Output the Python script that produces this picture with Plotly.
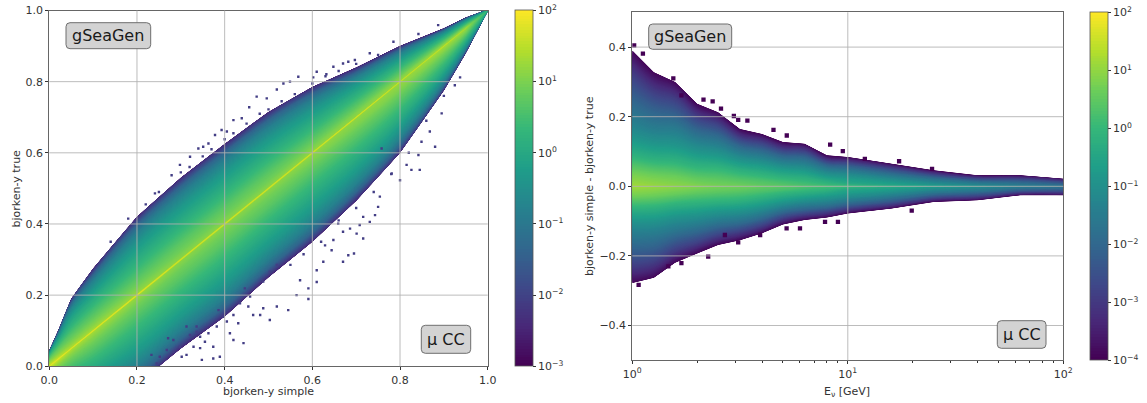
import plotly.graph_objects as go

W, H = 1147, 403

# ---- left panel: values ----
left_x = [0, .02, .05, .1, .2, .3, .4, .5, .6, .7, .8, .9, .95, 1]
left_edge_up = [.045, .08, .14, .175, .22, .23, .225, .215, .185, .14, .10, .05, .03, .003]
left_edge_dn = [.06, .10, .15, .20, .25, .25, .26, .25, .25, .235, .20, .125, .07, .003]
left_frac = [0, .015, .1, .2, .35, .5, .65, .8, .9, 1]
left_logz = [
    [1.9, 1.7, 1.5, 1.3, 1.0, .7, .35, -.1, -.7, -2.2],
    [1.9, 1.6, 1.3, 1.05, .75, .4, 0, -.5, -1.1, -2.3],
    [1.8, 1.4, 1.1, .85, .5, .15, -.2, -.7, -1.3, -2.4],
    [1.8, 1.3, 1.05, .8, .45, .1, -.3, -.8, -1.4, -2.4],
    [1.8, 1.2, .95, .7, .35, 0, -.35, -.85, -1.4, -2.4],
    [1.7, 1.1, .9, .7, .35, 0, -.35, -.85, -1.4, -2.4],
    [1.7, 1.1, .9, .7, .35, 0, -.35, -.85, -1.4, -2.4],
    [1.7, 1.1, .9, .7, .35, 0, -.35, -.85, -1.4, -2.4],
    [1.7, 1.15, .95, .7, .35, 0, -.35, -.85, -1.4, -2.4],
    [1.7, 1.15, 1.0, .75, .4, .05, -.3, -.8, -1.4, -2.4],
    [1.6, 1.2, 1.05, .8, .45, .1, -.3, -.8, -1.4, -2.4],
    [1.6, 1.3, 1.1, .85, .5, .15, -.25, -.75, -1.35, -2.4],
    [1.4, 1.2, 1.05, .85, .5, .15, -.25, -.7, -1.3, -2.4],
    [.3, .3, .3, .2, .1, 0, -.2, -.5, -1.0, -2.0],
]
left_speck_x = [.233, .245, .271, .283, .313, .321, .336, .348, .374, .389, .412, .42, .431, .443, .405, .454, .465,
                .488, .503, .519, .481, .374, .344, .313, .545, .591, .564, .61, .591, .572, .61, .625, .67, .682,
                .695, .716, .701, .648, .644, .731, .743, .75, .716, .708, .686, .67, .659, .629, .88, .845, .826,
                .815, .842, .849, .868, .895, .80, .781, .758, .937, .925, .754, .785, .731, .67, .682, .697, .61,
                .632, .568, .602, .648, .842, .887, .549, .534, .519, .473, .496, .456, .439, .42, .393, .378, .363,
                .34, .298, .279, .241, .405, .351, .321,
                .336, .344, .363, .382, .397, .386, .42, .435, .458, .446, .488, .503, .519, .283, .298, .268, .252,
                .302, .329, .355,
                .3, .32, .35, .37, .4, .42, .45, .48, .5, .53, .56, .6, .63, .66, .7, .75, .25, .22, .18, .14,
                .55, .58, .62, .66, .7, .74, .78, .82, .86, .9]
left_speck_y = [.032, .008, .079, .041, .112, .088, .097, .018, .022, .027, .093, .074, .121, .065, .126, .168, .144,
                .163, .13, .168, .144, .055, .051, .032, .158, .189, .2, .237, .219, .242, .27, .294, .294, .312,
                .317, .359, .373, .355, .326, .406, .425, .448, .42, .397, .387, .378, .401, .34, .617, .552, .552,
                .566, .594, .631, .66, .711, .523, .542, .612, .812, .79, .477, .912, .88, .851, .856, .861, .828,
                .821, .814, .812, .842, .934, .959, .8, .795, .778, .758, .753, .728, .697, .692, .664, .65, .626,
                .612, .566, .537, .486, .66, .617, .589,
                .112, .083, .093, .112, .14, .158, .144, .177, .196, .219, .238, .266, .285, .074, .055, .046, .027,
                .027, .055, .069,
                .545, .56, .59, .61, .638, .655, .682, .71, .722, .745, .765, .795, .815, .83, .85, .875, .49, .455,
                .415, .35,
                .285, .315, .35, .41, .445, .49, .54, .6, .69, .76]

# ---- right panel: values ----
right_e = [1, 1.26, 1.58, 2, 2.5, 3.16, 4, 5, 6.3, 8, 10, 16, 25, 40, 63, 100]
right_edge_up = [.39, .328, .30, .237, .213, .165, .15, .127, .122, .089, .084, .065, .046, .032, .032, .022]
right_edge_dn = [.278, .263, .22, .193, .169, .155, .135, .11, .097, .09, .078, .064, .045, .04, .026, .026]
right_frac = [0, .1, .25, .4, .55, .7, .85, 1]
right_logz = [
    [1.15, .7, -.3, -1.1, -1.7, -2.3, -3.0, -3.9],
    [1.05, .65, -.25, -1.0, -1.65, -2.25, -3.0, -3.9],
    [.95, .6, -.2, -.9, -1.5, -2.2, -2.95, -3.9],
    [.85, .5, -.15, -.8, -1.4, -2.1, -2.9, -3.9],
    [.75, .45, -.1, -.75, -1.35, -2.05, -2.9, -3.9],
    [.7, .4, -.1, -.7, -1.3, -2.0, -2.9, -3.9],
    [.55, .3, -.2, -.75, -1.35, -2.05, -2.9, -3.9],
    [.45, .2, -.3, -.8, -1.4, -2.1, -2.95, -3.9],
    [.3, .05, -.4, -.9, -1.45, -2.1, -2.95, -3.9],
    [.2, -.1, -.55, -1.0, -1.5, -2.15, -3.0, -3.9],
    [.1, -.4, -.7, -1.1, -1.6, -2.2, -3.0, -3.9],
    [-.3, -.6, -.95, -1.35, -1.85, -2.4, -3.1, -3.9],
    [-.6, -.9, -1.25, -1.6, -2.05, -2.6, -3.2, -3.9],
    [-1.0, -1.2, -1.5, -1.85, -2.3, -2.75, -3.3, -3.9],
    [-1.4, -1.55, -1.8, -2.1, -2.45, -2.9, -3.4, -3.9],
    [-1.7, -1.8, -2.0, -2.3, -2.6, -3.0, -3.4, -3.9],
]
right_speck_e = [1.02, 1.12, 1.55, 1.69, 2.14, 2.36, 2.58, 2.96, 3.1, 3.42, 4.52, 5.21, 8.28, 9.48, 12, 17.3, 24.6,
                 1.07, 1.47, 1.69, 2.25, 2.69, 3.1, 3.92, 5.2, 6, 7.84, 9, 19.8]
right_speck_y = [.405, .381, .31, .261, .249, .244, .223, .202, .191, .189, .162, .146, .12, .101, .079, .072, .05,
                 -.283, -.23, -.221, -.202, -.14, -.161, -.14, -.121, -.121, -.102, -.102, -.07]

left_ticks = [0, .2, .4, .6, .8, 1]
right_yticks = [-.4, -.2, 0, .2, .4]
right_xticks = [1, 10, 100]
right_xlabels = ["10<sup>0</sup>", "10<sup>1</sup>", "10<sup>2</sup>"]
right_xminor = [2, 3, 4, 5, 6, 7, 8, 9, 20, 30, 40, 50, 60, 70, 80, 90]
left_cb_ticks = [-3, -2, -1, 0, 1, 2]
right_cb_ticks = [-4, -3, -2, -1, 0, 1, 2]

FONT = "DejaVu Sans"
TXT = "#333333"


def mirror_fracs(fr):
    return [-f for f in reversed(fr)] + list(fr[1:])


def mirror_row(row):
    return list(reversed(row)) + list(row[1:])


def grid(anchor, frac, up, dn, add_anchor):
    fs = mirror_fracs(frac)
    ys = [[(a if add_anchor else 0) + (f * (up[i] if f > 0 else dn[i])) for i, a in enumerate(anchor)] for f in fs]
    xs = [list(anchor) for _ in fs]
    return fs, xs, ys


def z_grid(table, frac):
    n = len(mirror_fracs(frac))
    mirrored = [mirror_row(r) for r in table]
    return [[mirrored[i][j] for i in range(len(table))] for j in range(n)]


def cb_text(vals):
    return ["10<sup>%s</sup>" % str(v).replace("-", "−") for v in vals]


hidden = dict(showgrid=False, showticklabels="none", startline=False, endline=False,
              minorgridcount=0, smoothing=0, showline=False, tickmode="array", tickvals=[], ticktext=[])

fig = go.Figure()

# Panels in pixels
LX0, LX1, LY0, LY1 = 49.3, 487.7, 10.5, 366.3
RX0, RX1, RY0, RY1 = 632.3, 1063.3, 12.3, 360.3

fs, xs, ys = grid(left_x, left_frac, left_edge_up, left_edge_dn, True)
fig.add_trace(go.Carpet(carpet="cl", a=left_x, b=list(range(len(fs))), x=xs, y=ys,
                        aaxis=hidden, baxis=hidden, xaxis="x", yaxis="y"))
fig.add_trace(go.Contourcarpet(
    carpet="cl", a=left_x, b=list(range(len(fs))), z=z_grid(left_logz, left_frac),
    colorscale="Viridis", zmin=-3, zmax=2, autocontour=False,
    contours=dict(start=-3, end=2, size=.04, coloring="fill", showlines=False),
    line=dict(width=0), xaxis="x", yaxis="y",
    colorbar=dict(x=515 / W, xanchor="left", xpad=0, ypad=0, y=1 - LY1 / H, yanchor="bottom",
                  len=(LY1 - LY0) / H, lenmode="fraction", thickness=18, thicknessmode="pixels",
                  tickmode="array", tickvals=left_cb_ticks, ticktext=cb_text(left_cb_ticks),
                  ticks="outside", ticklen=3, tickwidth=.8, tickcolor=TXT, outlinewidth=.8, outlinecolor="#555",
                  tickfont=dict(family=FONT, size=11, color=TXT)),
))
fig.add_trace(go.Scatter(x=left_speck_x, y=left_speck_y, mode="markers", xaxis="x", yaxis="y", hoverinfo="skip",
                         marker=dict(symbol="square", size=2.4, color="#433e85", line=dict(width=0))))

fs, xs, ys = grid(right_e, right_frac, right_edge_up, right_edge_dn, False)
fig.add_trace(go.Carpet(carpet="cr", a=right_e, b=list(range(len(fs))), x=xs, y=ys,
                        aaxis=hidden, baxis=hidden, xaxis="x2", yaxis="y2"))
fig.add_trace(go.Contourcarpet(
    carpet="cr", a=right_e, b=list(range(len(fs))), z=z_grid(right_logz, right_frac),
    colorscale="Viridis", zmin=-4, zmax=2, autocontour=False,
    contours=dict(start=-4, end=2, size=.05, coloring="fill", showlines=False),
    line=dict(width=0), xaxis="x2", yaxis="y2",
    colorbar=dict(x=1090 / W, xanchor="left", xpad=0, ypad=0, y=1 - RY1 / H, yanchor="bottom",
                  len=(RY1 - RY0) / H, lenmode="fraction", thickness=18, thicknessmode="pixels",
                  tickmode="array", tickvals=right_cb_ticks, ticktext=cb_text(right_cb_ticks),
                  ticks="outside", ticklen=3, tickwidth=.8, tickcolor=TXT, outlinewidth=.8, outlinecolor="#555",
                  tickfont=dict(family=FONT, size=11, color=TXT)),
))
fig.add_trace(go.Scatter(x=right_speck_e, y=right_speck_y, mode="markers", xaxis="x2", yaxis="y2", hoverinfo="skip",
                         marker=dict(symbol="square", size=4.3, color="#440154", line=dict(width=0))))


def axis(domain, **kw):
    d = dict(domain=domain, showline=True, mirror=True, linecolor="#666", linewidth=1, automargin=False,
             ticks="outside", ticklen=3, tickwidth=.8, tickcolor=TXT, showgrid=False, zeroline=False,
             tickfont=dict(family=FONT, size=11, color=TXT), layer="above traces")
    d.update(kw)
    return d


fig.update_layout(
    width=W, height=H, autosize=False, margin=dict(l=0, r=0, t=0, b=0),
    paper_bgcolor="white", plot_bgcolor="white", showlegend=False,
    xaxis=axis([LX0 / W, LX1 / W], range=[0, 1], tickmode="array", tickvals=left_ticks,
               ticktext=["%.1f" % t for t in left_ticks], anchor="y"),
    yaxis=axis([1 - LY1 / H, 1 - LY0 / H], range=[0, 1], tickmode="array", tickvals=left_ticks,
               ticktext=["%.1f" % t for t in left_ticks], anchor="x"),
    xaxis2=axis([RX0 / W, RX1 / W], type="log", range=[0, 2], tickmode="array", tickvals=right_xticks,
                ticktext=right_xlabels, anchor="y2",
                minor=dict(ticks="outside", ticklen=2, tickwidth=.6, tickcolor=TXT, tickvals=right_xminor)),
    yaxis2=axis([1 - RY1 / H, 1 - RY0 / H], range=[-.5, .5], tickmode="array", tickvals=right_yticks,
                ticktext=[("%.1f" % t).replace("-", "−") for t in right_yticks], anchor="x2"),
)

GRID = "rgba(176,176,176,.85)"
for t in left_ticks[1:-1]:
    fig.add_shape(type="line", xref="x", yref="y domain", x0=t, x1=t, y0=0, y1=1, line=dict(color=GRID, width=1), layer="above")
    fig.add_shape(type="line", xref="x domain", yref="y", x0=0, x1=1, y0=t, y1=t, line=dict(color=GRID, width=1), layer="above")
for t in right_yticks:
    fig.add_shape(type="line", xref="x2 domain", yref="y2", x0=0, x1=1, y0=t, y1=t, line=dict(color=GRID, width=1), layer="above")
fig.add_shape(type="line", xref="x2", yref="y2 domain", x0=10, x1=10, y0=0, y1=1, line=dict(color=GRID, width=1), layer="above")


def title(cx, cy, text, angle=0):
    fig.add_annotation(xref="paper", yref="paper", x=cx / W, y=1 - cy / H, text=text, showarrow=False, textangle=angle,
                       xanchor="center", yanchor="middle", font=dict(family=FONT, size=11, color=TXT))


title(268.5, 391.5, "bjorken-y simple")
title(16, 188.5, "bjorken-y true", -90)
title(847, 391.5, "E<sub>ν</sub> [GeV]")
title(589.5, 186.5, "bjorken-y simple - bjorken-y true", -90)


def label(x0, x1, y0, y1, text):
    r = 4
    X0, X1 = x0 / W, x1 / W
    Y0, Y1 = 1 - y1 / H, 1 - y0 / H
    rx, ry = r / W, r / H
    path = (f"M{X0 + rx},{Y0} L{X1 - rx},{Y0} Q{X1},{Y0} {X1},{Y0 + ry} L{X1},{Y1 - ry} Q{X1},{Y1} {X1 - rx},{Y1} "
            f"L{X0 + rx},{Y1} Q{X0},{Y1} {X0},{Y1 - ry} L{X0},{Y0 + ry} Q{X0},{Y0} {X0 + rx},{Y0} Z")
    fig.add_shape(type="path", xref="paper", yref="paper", path=path, fillcolor="rgba(211,211,211,1)",
                  line=dict(color="#6e6e6e", width=1), layer="above")
    fig.add_annotation(xref="paper", yref="paper", x=(X0 + X1) / 2, y=(Y0 + Y1) / 2, text=text, showarrow=False,
                       xanchor="center", yanchor="middle", font=dict(family=FONT, size=16, color="#1a1a1a"))


label(66, 150.7, 22.7, 48.7, "gSeaGen")
label(421.3, 470.7, 325.3, 353.3, "μ CC")
label(648.7, 731.7, 24, 49.3, "gSeaGen")
label(997.3, 1046, 320.7, 348.3, "μ CC")

fig.write_html("out.html", config=dict(displayModeBar=False),
               post_script="document.body.style.margin='0';document.documentElement.style.overflow='hidden';")
